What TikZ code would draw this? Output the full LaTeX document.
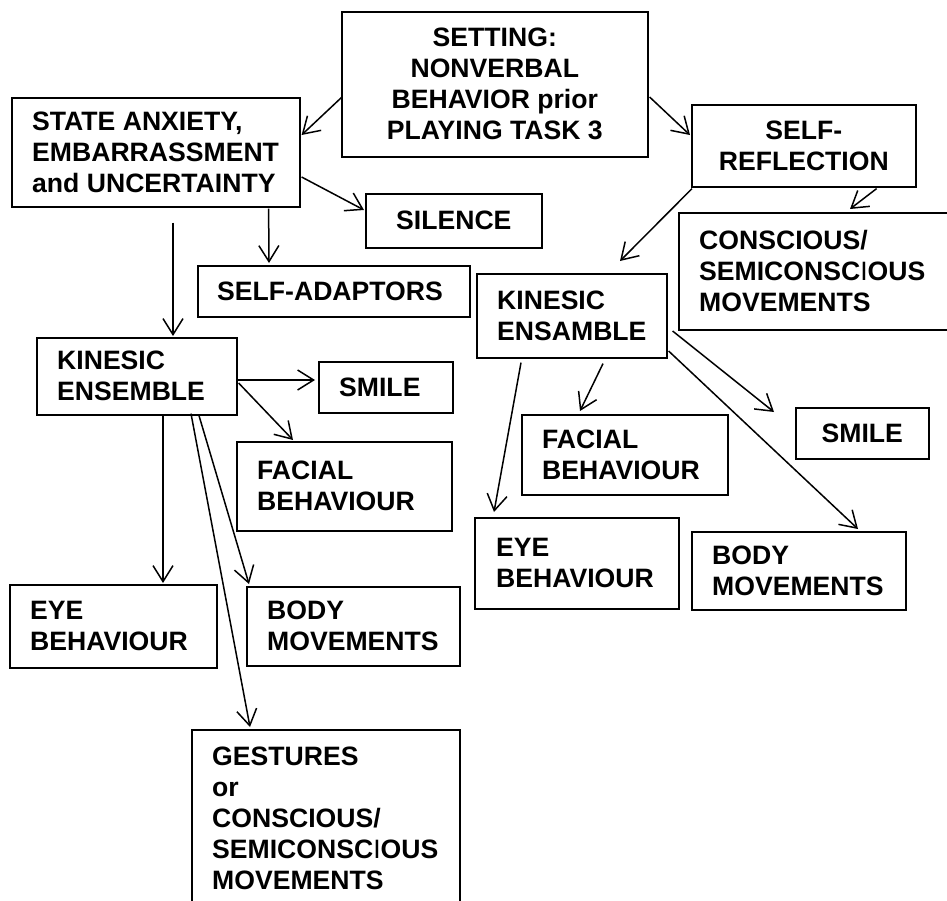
\documentclass[tikz,border=0pt]{standalone}
\usepackage{fontspec}
\setmainfont{Liberation Sans}
\usetikzlibrary{arrows.meta}

\begin{document}
\begin{tikzpicture}[x=1pt,y=-1pt,
  box/.style={draw, line width=1.6pt, inner sep=0pt, anchor=north west},
  lbl/.style={inner sep=0pt, align=left, font=\fontsize{26.6}{31}\selectfont\bfseries},
  clbl/.style={lbl, align=center},
  arr/.style={line width=1.5pt, -{Straight Barb[length=16pt,width=20pt]}},
]
\clip (0,0) rectangle (947,900);

% ---- boxes ----
\node[box, minimum width=306pt, minimum height=145pt] (set)    at (341,11)  {};
\node[box, minimum width=288pt, minimum height=109pt] (state)  at (11,97)   {};
\node[box, minimum width=224pt, minimum height=82pt]  (refl)   at (691,104) {};
\node[box, minimum width=176pt, minimum height=54pt]  (sil)    at (365,193) {};
\node[box, minimum width=272pt, minimum height=51pt]  (adapt)  at (197,265) {};
\node[box, minimum width=275pt, minimum height=117pt] (cons)   at (678,212) {};
\node[box, minimum width=200pt, minimum height=77pt]  (ke)     at (36,337)  {};
\node[box, minimum width=134pt, minimum height=51pt]  (smileA) at (318,361) {};
\node[box, minimum width=215pt, minimum height=89pt]  (facA)   at (236,441) {};
\node[box, minimum width=207pt, minimum height=83pt]  (eyeA)   at (9,584)   {};
\node[box, minimum width=213pt, minimum height=79pt]  (bodyA)  at (246,586) {};
\node[box, minimum width=268pt, minimum height=200pt] (gest)   at (191,729) {};
\node[box, minimum width=190pt, minimum height=84pt]  (keB)    at (476,273) {};
\node[box, minimum width=133pt, minimum height=51pt]  (smileB) at (795,407) {};
\node[box, minimum width=206pt, minimum height=80pt]  (facB)   at (521,414) {};
\node[box, minimum width=204pt, minimum height=91pt]  (eyeB)   at (474,517) {};
\node[box, minimum width=214pt, minimum height=78pt]  (bodyB)  at (691,531) {};

% ---- texts ----
\node[clbl] (set-t) at (set.center) {SETTING:\\NONVERBAL\\BEHAVIOR prior\\PLAYING TASK 3};
\node[lbl, anchor=west] (state-t) at ([xshift=21pt]state.west) {STATE ANXIETY,\\EMBARRASSMENT\\and UNCERTAINTY};
\node[clbl] (refl-t) at (refl.center) {SELF-\\REFLECTION};
\node[clbl] (sil-t) at (sil.center) {SILENCE};
\node[lbl, anchor=west] (adapt-t) at ([xshift=20pt]adapt.west) {SELF-ADAPTORS};
\node[lbl, anchor=west] (cons-t) at ([xshift=21pt]cons.west) {CONSCIOUS/\\SEMICONSC{\mdseries I}OUS\\MOVEMENTS};
\node[lbl, anchor=west] (ke-t) at ([xshift=21pt]ke.west) {KINESIC\\ENSEMBLE};
\node[lbl, anchor=west] (smileA-t) at ([xshift=21pt]smileA.west) {SMILE};
\node[lbl, anchor=west] (facA-t) at ([xshift=21pt]facA.west) {FACIAL\\BEHAVIOUR};
\node[lbl, anchor=west] (eyeA-t) at ([xshift=21pt]eyeA.west) {EYE\\BEHAVIOUR};
\node[lbl, anchor=west] (bodyA-t) at ([xshift=21pt]bodyA.west) {BODY\\MOVEMENTS};
\node[lbl, anchor=north west] (gest-t) at ([shift={(21,18)}]gest.north west) {GESTURES\\or\\CONSCIOUS/\\SEMICONSC{\mdseries I}OUS\\MOVEMENTS};
\node[lbl, anchor=west] (keB-t) at ([xshift=21pt]keB.west) {KINESIC\\ENSAMBLE};
\node[clbl] (smileB-t) at (smileB.center) {SMILE};
\node[lbl, anchor=west] (facB-t) at ([xshift=21pt]facB.west) {FACIAL\\BEHAVIOUR};
\node[lbl, anchor=west] (eyeB-t) at ([xshift=22pt]eyeB.west) {EYE\\BEHAVIOUR};
\node[lbl, anchor=west] (bodyB-t) at ([xshift=21pt]bodyB.west) {BODY\\MOVEMENTS};

% ---- connectors ----
\draw[arr] ([shift={(1,86)}]set.north west)  -- ([shift={(1,38)}]state.north east);
\draw[arr] ([shift={(1,86)}]set.north east)  -- ([shift={(-1,31)}]refl.north west);
\draw[arr] ([shift={(1,80)}]state.north east) -- ([shift={(-1,17)}]sil.north west);
\draw[arr] ([shift={(-32,1)}]state.south east) -- ([shift={(72,-2)}]adapt.north west);
\draw[arr] ([shift={(162,15)}]state.south west) -- ([shift={(137,-1)}]ke.north west);
\draw[arr] ([shift={(-40,1)}]refl.south east) -- ([shift={(172,-3)}]cons.north west);
\draw[arr] ([shift={(1,1)}]refl.south west) -- ([shift={(144,-12)}]keB.north west);

\draw[arr] ([shift={(0,43)}]ke.north east) -- ([shift={(-3,19)}]smileA.north west);
\draw[arr] ([shift={(1,46)}]ke.north east) -- ([shift={(57,-1)}]facA.north west);
\draw[arr] ([shift={(127,0)}]ke.south west) -- ([shift={(154,-1)}]eyeA.north west);
\draw[arr] ([shift={(163,0)}]ke.south west) -- ([shift={(3,-2)}]bodyA.north west);
\draw[arr] ([shift={(155,-2)}]ke.south west) -- ([shift={(59,-2)}]gest.north west);

\draw[arr] ([shift={(5,58)}]keB.north east) -- ([shift={(-21,5)}]smileB.north west);
\draw[arr] ([shift={(1,78)}]keB.north east) -- ([shift={(167,-2)}]bodyB.north west);
\draw[arr] ([shift={(127,5)}]keB.south west) -- ([shift={(59,-3)}]facB.north west);
\draw[arr] ([shift={(45,4)}]keB.south west) -- ([shift={(20,-5)}]eyeB.north west);
\end{tikzpicture}
\end{document}
